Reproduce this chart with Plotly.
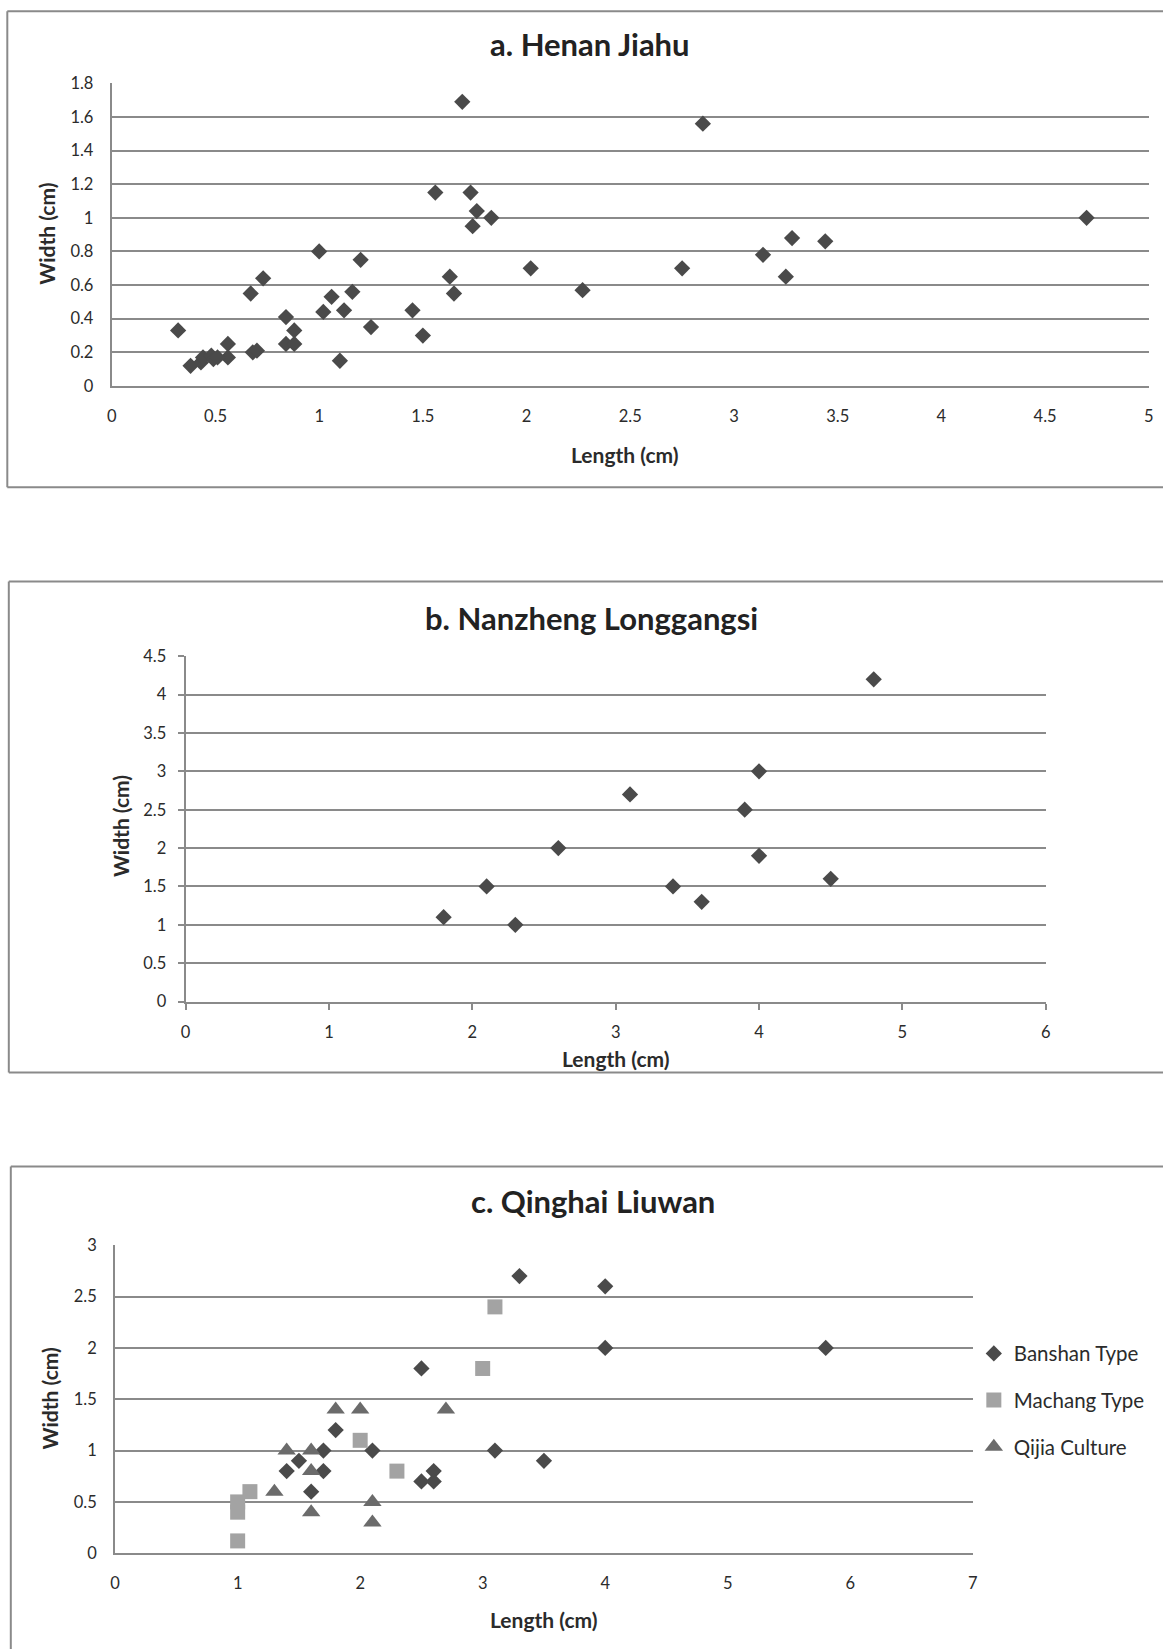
import plotly.graph_objects as go

# ---------------- data ----------------
# a. Henan Jiahu
a_length = [1.69, 1.56, 1.73, 1.76, 1.83, 1.74, 1.00, 1.20, 2.02, 1.63, 0.73, 0.67, 1.65,
            1.06, 1.16, 1.02, 1.12, 1.45, 0.84, 0.32, 0.88, 1.25, 1.50, 0.56, 0.84, 0.88,
            0.68, 0.70, 1.10, 0.56, 0.38, 0.43, 0.44, 0.48, 0.49, 0.51,
            2.85, 2.27, 2.75, 3.14, 3.28, 3.44, 3.25, 4.70]
a_width = [1.69, 1.15, 1.15, 1.04, 1.00, 0.95, 0.80, 0.75, 0.70, 0.65, 0.64, 0.55, 0.55,
           0.53, 0.56, 0.44, 0.45, 0.45, 0.41, 0.33, 0.33, 0.35, 0.30, 0.25, 0.25, 0.25,
           0.20, 0.21, 0.15, 0.17, 0.12, 0.14, 0.17, 0.18, 0.16, 0.17,
           1.56, 0.57, 0.70, 0.78, 0.88, 0.86, 0.65, 1.00]

# b. Nanzheng Longgangsi
b_length = [1.8, 2.1, 2.3, 2.6, 3.1, 3.4, 3.6, 3.9, 4.0, 4.0, 4.5, 4.8]
b_width = [1.1, 1.5, 1.0, 2.0, 2.7, 1.5, 1.3, 2.5, 3.0, 1.9, 1.6, 4.2]

# c. Qinghai Liuwan
banshan_length = [3.3, 2.5, 1.8, 1.7, 2.1, 3.1, 3.5, 1.5, 1.4, 1.7, 1.6, 2.5, 2.6, 2.6, 4.0, 4.0, 5.8]
banshan_width = [2.7, 1.8, 1.2, 1.0, 1.0, 1.0, 0.9, 0.9, 0.8, 0.8, 0.6, 0.7, 0.8, 0.7, 2.6, 2.0, 2.0]
machang_length = [3.1, 3.0, 2.0, 2.3, 1.1, 1.0, 1.0, 1.0]
machang_width = [2.4, 1.8, 1.1, 0.8, 0.6, 0.5, 0.4, 0.12]
qijia_length = [1.8, 2.0, 2.7, 1.4, 1.6, 1.6, 1.3, 1.6, 2.1, 2.1]
qijia_width = [1.4, 1.4, 1.4, 1.0, 1.0, 0.8, 0.6, 0.4, 0.5, 0.3]

series_names = ["Banshan Type", "Machang Type", "Qijia Culture"]
panel_titles = ["a. Henan Jiahu", "b. Nanzheng Longgangsi", "c. Qinghai Liuwan"]
x_title = "Length (cm)"
y_title = "Width (cm)"

a_xticks = [0, 0.5, 1, 1.5, 2, 2.5, 3, 3.5, 4, 4.5, 5]
a_xtext = ["0", "0.5", "1", "1.5", "2", "2.5", "3", "3.5", "4", "4.5", "5"]
a_yticks = [0, 0.2, 0.4, 0.6, 0.8, 1.0, 1.2, 1.4, 1.6, 1.8]
a_ytext = ["0", "0.2", "0.4", "0.6", "0.8", "1", "1.2", "1.4", "1.6", "1.8"]
b_xticks = [0, 1, 2, 3, 4, 5, 6]
b_xtext = ["0", "1", "2", "3", "4", "5", "6"]
b_yticks = [0, 0.5, 1, 1.5, 2, 2.5, 3, 3.5, 4, 4.5]
b_ytext = ["0", "0.5", "1", "1.5", "2", "2.5", "3", "3.5", "4", "4.5"]
c_xticks = [0, 1, 2, 3, 4, 5, 6, 7]
c_xtext = ["0", "1", "2", "3", "4", "5", "6", "7"]
c_yticks = [0, 0.5, 1, 1.5, 2, 2.5, 3]
c_ytext = ["0", "0.5", "1", "1.5", "2", "2.5", "3"]

# ---------------- styling ----------------
W, H = 1168, 1649
FONT = "Lato"
TEXT = "#2b2b2b"
GRID = "#8a8a8a"
DARK = "#4a4a4a"
LIGHT = "#a3a3a3"
MID = "#6b6b6b"

# small calibration of target pixel positions to figure pixels
SX, OX = 0.991, 4.7
SY, OY = 0.989, 9.3


def px(x):
    return max(0.0, (x - OX) / SX) / W


def py(y):
    return 1 - max(0.0, (y - OY) / SY) / H


fig = go.Figure()

fig.add_trace(go.Scatter(x=a_length, y=a_width, mode="markers", xaxis="x", yaxis="y",
                         marker=dict(symbol="diamond", size=12.5, color=DARK), showlegend=False,
                         cliponaxis=False))
fig.add_trace(go.Scatter(x=b_length, y=b_width, mode="markers", xaxis="x2", yaxis="y2",
                         marker=dict(symbol="diamond", size=12.5, color=DARK), showlegend=False,
                         cliponaxis=False))
fig.add_trace(go.Scatter(x=banshan_length, y=banshan_width, mode="markers", xaxis="x3", yaxis="y3",
                         name=series_names[0], legendgroup="g1",
                         marker=dict(symbol="diamond", size=12.5, color=DARK), cliponaxis=False))
fig.add_trace(go.Scatter(x=machang_length, y=machang_width, mode="markers", xaxis="x3", yaxis="y3",
                         name=series_names[1], legendgroup="g2",
                         marker=dict(symbol="square", size=15, color=LIGHT), cliponaxis=False))
fig.add_trace(go.Scatter(x=qijia_length, y=qijia_width, mode="markers", xaxis="x3", yaxis="y3",
                         name=series_names[2], legendgroup="g3",
                         marker=dict(symbol="triangle-up", size=16, color=MID), cliponaxis=False))

tickfont = dict(family=FONT, size=16.5, color=TEXT)


def xaxis(dom, rng, tv, tt, anchor, ticks=""):
    return dict(domain=dom, range=rng, tickvals=tv, ticktext=tt, anchor=anchor,
                showgrid=False, zeroline=False, showline=True, linecolor=GRID, linewidth=2,
                ticks=ticks, ticklen=6, tickwidth=2, tickcolor=GRID,
                tickfont=tickfont, ticklabelstandoff=14 if ticks == "" else 9, fixedrange=True)


def yaxis(dom, rng, tv, tt, anchor, ticks=""):
    return dict(domain=dom, range=rng, tickvals=tv, ticktext=tt, anchor=anchor,
                showgrid=True, gridcolor=GRID, gridwidth=2, zeroline=False,
                showline=True, linecolor=GRID, linewidth=2,
                ticks=ticks, ticklen=6, tickwidth=2, tickcolor=GRID,
                tickfont=tickfont, ticklabelstandoff=13 if ticks == "" else 8, fixedrange=True)


fig.update_layout(
    width=W, height=H,
    margin=dict(l=0, r=0, t=0, b=0),
    paper_bgcolor="white", plot_bgcolor="white",
    font=dict(family=FONT, color=TEXT),
    xaxis=xaxis([px(111.4), px(1148)], [0, 5], a_xticks, a_xtext, "y"),
    yaxis=yaxis([py(385.7), py(82.7)], [0, 1.8], a_yticks, a_ytext, "x"),
    xaxis2=xaxis([px(185.2), px(1045)], [0, 6], b_xticks, b_xtext, "y2", ticks="outside"),
    yaxis2=yaxis([py(1002), py(656.3)], [0, 4.5], b_yticks, b_ytext, "x2", ticks="outside"),
    xaxis3=xaxis([px(114.8), px(972)], [0, 7], c_xticks, c_xtext, "y3"),
    yaxis3=yaxis([py(1554.3), py(1246)], [0, 3], c_yticks, c_ytext, "x3"),
    legend=dict(x=977.2 / W, y=1 - 1339.8 / H, xanchor="left", yanchor="top",
                font=dict(family=FONT, size=20.5, color=TEXT),
                tracegroupgap=17, bgcolor="rgba(0,0,0,0)", itemclick=False,
                itemdoubleclick=False),
)

# panel frames (right edge runs off the image)
frames = [(7, 10.5, 487), (8.5, 581.5, 1073), (10.5, 1167, 1700)]
for left, top, bottom in frames:
    fig.add_shape(type="line", xref="paper", yref="paper", x0=px(left), x1=1.0,
                  y0=py(top), y1=py(top), line=dict(color=GRID, width=2))
    fig.add_shape(type="line", xref="paper", yref="paper", x0=px(left), x1=px(left),
                  y0=py(top), y1=py(bottom), line=dict(color=GRID, width=2))
    if bottom < H:
        fig.add_shape(type="line", xref="paper", yref="paper", x0=px(left), x1=1.0,
                      y0=py(bottom), y1=py(bottom), line=dict(color=GRID, width=2))

# panel titles
title_pos = [(589.5, 43), (591, 618), (592.5, 1202)]
for t, (cx, cy) in zip(panel_titles, title_pos):
    fig.add_annotation(text=t, xref="paper", yref="paper", x=px(cx), y=py(cy),
                       xanchor="center", yanchor="middle", showarrow=False,
                       font=dict(family=FONT, size=31, color="#222222", weight="bold"))

# axis titles
xt_pos = [(624, 454), (615, 1059), (543, 1621)]
yt_pos = [(46, 233), (120, 826), (49, 1399)]
for cx, cy in xt_pos:
    fig.add_annotation(text=x_title, xref="paper", yref="paper", x=px(cx), y=py(cy),
                       xanchor="center", yanchor="middle", showarrow=False,
                       font=dict(family=FONT, size=21, color=TEXT, weight="bold"))
for cx, cy in yt_pos:
    fig.add_annotation(text=y_title, xref="paper", yref="paper", x=px(cx), y=py(cy),
                       xanchor="center", yanchor="middle", showarrow=False, textangle=-90,
                       font=dict(family=FONT, size=21, color=TEXT, weight="bold"))

fig.write_html("out.html", config={"displayModeBar": False},
               post_script="document.body.style.margin='0';document.body.style.overflow='hidden';")
